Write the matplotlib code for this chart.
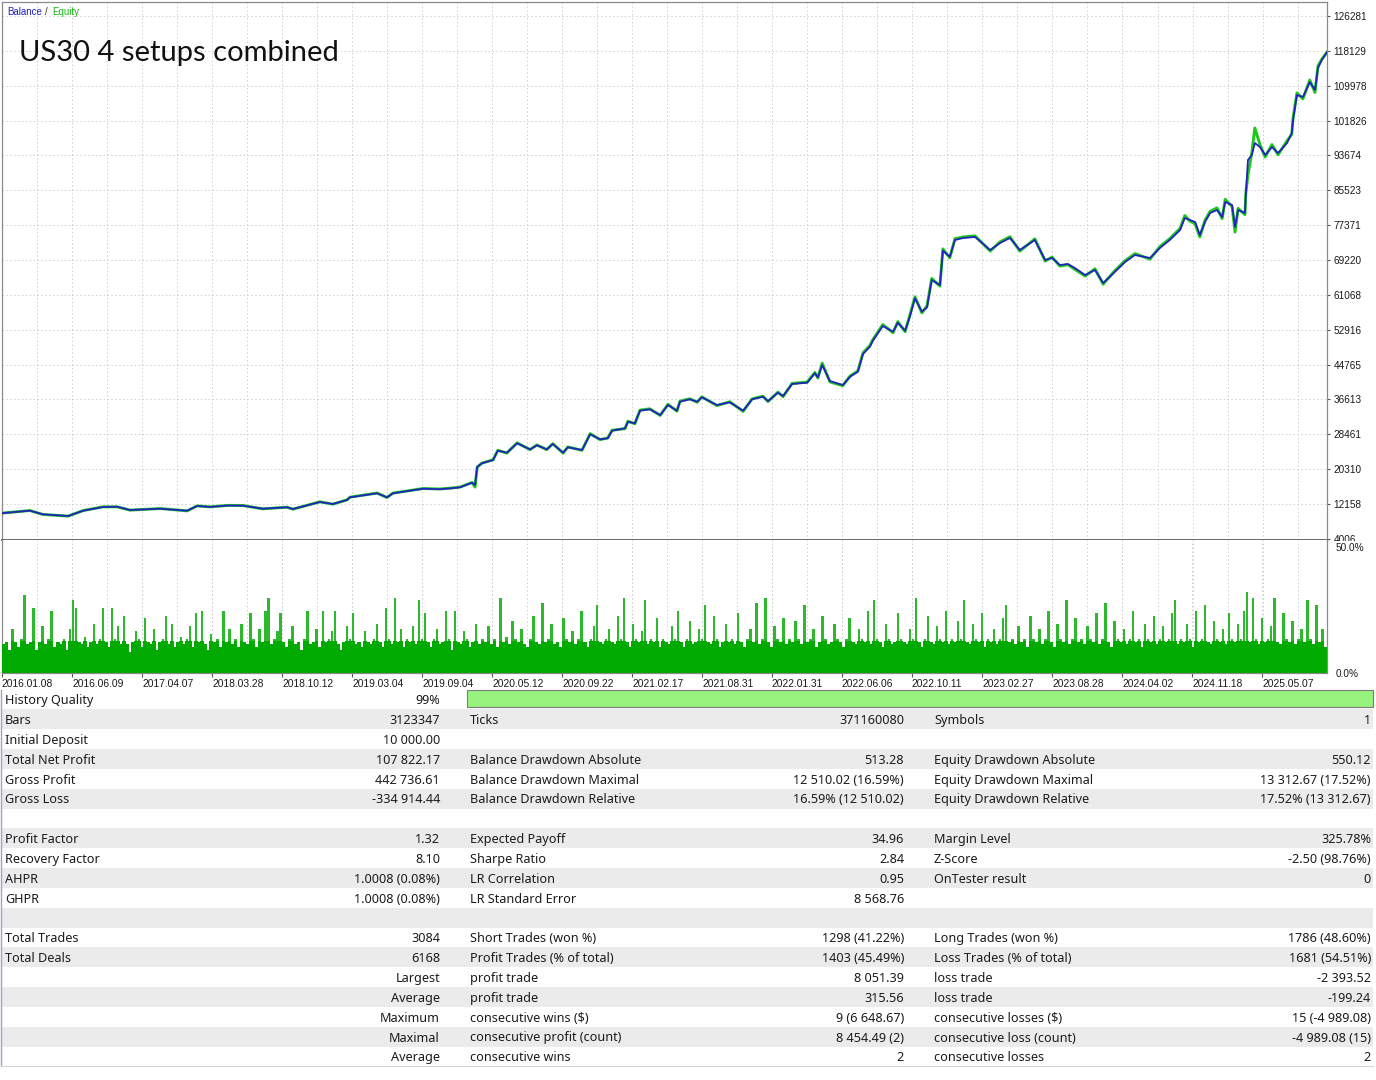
import matplotlib
matplotlib.use("Agg")
import matplotlib.pyplot as plt
from matplotlib.patches import Rectangle
import numpy as np

plt.rcParams['font.family'] = ['Liberation Sans', 'DejaVu Sans']

# ---- balance / equity curve (x = trade number) ----
trade_no = [0, 65, 95, 154, 189, 235, 268, 298, 368, 431,
            454, 484, 526, 561, 607, 663, 677, 740, 770, 803, 810, 873,
            896, 910, 980, 1019, 1047, 1066, 1094, 1101, 1106, 1117, 1143, 1154,
            1175, 1199, 1229, 1245, 1268, 1282, 1306, 1317, 1350, 1369,
            1392, 1410, 1420, 1450, 1457, 1473, 1485, 1508, 1532, 1550,
            1571, 1578, 1601, 1618, 1629, 1664, 1694, 1725, 1746, 1771,
            1783, 1806, 1818, 1839, 1874, 1892, 1899, 1909, 1927, 1957,
            1974, 1992, 2004, 2020, 2027, 2050, 2074, 2085, 2102, 2113,
            2125, 2141, 2153, 2164, 2183, 2190, 2206, 2218, 2237, 2265, 2300,
            2323, 2346, 2369, 2404, 2428, 2444, 2462, 2481, 2497, 2521, 2544, 2563,
            2590, 2614, 2637, 2672, 2695, 2718, 2742, 2753, 2765, 2777,
            2788, 2800, 2812, 2828, 2840, 2847, 2863, 2870, 2877, 2893,
            2895, 2900, 2909, 2916, 2928, 2940, 2956, 2970, 2991, 3002,
            3005, 3014, 3028, 3044, 3056, 3063, 3072, 3084]

balance = [10000, 10570, 9730, 9330, 10570, 11436, 11506, 10734, 11038, 10571,
           11670, 11440, 11786, 11740, 11038, 11366, 10968, 12606, 12138, 13073, 13705, 14641,
           13705, 14641, 15716, 15600, 15833, 16044, 17120, 16582, 20862, 21658, 22429, 24605,
           24137, 26336, 24932, 25868, 24932, 26172, 24137, 25400, 24768, 28441,
           27271, 27505, 29283, 29844, 31388, 31014, 33961, 34288, 32955, 35294,
           33961, 36066, 36627, 36066, 37095, 35294, 35925, 33961, 36627, 37235,
           36229, 38171, 37399, 40206, 40510, 42709, 41773, 44650, 40907, 39972,
           41913, 43083, 47223, 48930, 50334, 53772, 52439, 54544, 52673, 55947,
           60251, 57117, 58146, 64531, 63362, 71385, 69981, 73887, 74355, 74589, 71548,
           73186, 74355, 71548, 73887, 69209, 69677, 68040, 68274, 67338, 65701, 66870, 63830,
           66403, 68742, 70379, 69677, 72016, 73887, 76226, 79033, 78565, 78098,
           75057, 78098, 80203, 80904, 79267, 82776, 82074, 76928, 80904, 80203,
           84413, 92599, 93769, 96576, 95640, 93769, 95640, 94237, 96576, 98915,
           101955, 107803, 107335, 110844, 108972, 114118, 115989, 117822]

equity = [10000, 10620, 9690, 9300, 10610, 11480, 11470, 10700, 11080, 10530,
          11700, 11480, 11820, 11790, 11000, 11400, 10930, 12650, 12100, 13110, 13740, 14700,
          13650, 14690, 15760, 15650, 15880, 16090, 17170, 16100, 20700, 21700, 22480, 24700,
          24050, 26450, 24850, 25950, 24850, 26250, 24050, 25480, 24700, 28600,
          27180, 27600, 29400, 29750, 31500, 30900, 34100, 34400, 32850, 35450,
          33850, 36200, 36750, 35950, 37200, 35150, 36050, 33800, 36750, 37350,
          36100, 38300, 37250, 40350, 40650, 42900, 41600, 45100, 40700, 39800,
          42100, 43250, 47500, 49200, 50600, 54100, 52200, 54800, 52450, 56300,
          60600, 56850, 58450, 64900, 63100, 71800, 69700, 74200, 74600, 74850, 71300,
          73450, 74650, 71300, 74150, 68950, 69900, 67800, 68100, 67050, 65450, 67150, 63550,
          66700, 69050, 70700, 69400, 72350, 74200, 76600, 79600, 78300, 77700,
          74600, 78500, 80600, 81400, 78900, 83400, 81700, 75750, 81300, 79800,
          84800, 89100, 94300, 100080, 96200, 93300, 96200, 93800, 97100, 98600,
          102400, 108300, 106900, 111300, 108400, 114600, 116200, 117822]

balance_ticks = [4006, 12158, 20310, 28461, 36613, 44765, 52916, 61068,
                 69220, 77371, 85523, 93674, 101826, 109978, 118129, 126281]

# ---- deposit load (%) ----
deposit_load = [
    11, 12, 9, 17, 12, 10, 13, 30, 11, 12, 25, 9, 12, 18, 11, 13, 24, 10, 12, 11,
    13, 9, 17, 28, 25, 12, 11, 14, 10, 12, 19, 11, 13, 25, 12, 10, 25, 13, 18, 11,
    22, 11, 8, 12, 16, 13, 10, 21, 12, 11, 17, 9, 12, 13, 22, 11, 19, 10, 12, 14,
    11, 13, 18, 10, 23, 12, 24, 11, 9, 15, 12, 13, 10, 24, 12, 17, 11, 13, 10, 19,
    12, 11, 23, 13, 10, 17, 12, 24, 29, 11, 13, 16, 23, 12, 10, 13, 18, 11, 12, 9,
    13, 24, 11, 12, 17, 10, 24, 12, 13, 16, 24, 11, 9, 12, 18, 13, 23, 11, 12, 10,
    16, 12, 11, 13, 19, 12, 10, 25, 13, 11, 29, 12, 17, 10, 13, 12, 18, 11, 28, 13,
    23, 12, 10, 13, 17, 11, 12, 24, 13, 9, 24, 12, 11, 16, 13, 10, 12, 19, 11, 13,
    12, 18, 11, 13, 10, 29, 12, 14, 11, 20, 13, 12, 17, 11, 10, 13, 22, 12, 11, 27,
    12, 13, 19, 11, 12, 10, 21, 13, 12, 16, 11, 13, 24, 12, 10, 13, 18, 26, 12, 11,
    13, 17, 12, 11, 22, 13, 29, 12, 10, 19, 13, 12, 16, 28, 11, 13, 12, 21, 10, 13,
    12, 11, 18, 13, 24, 12, 10, 13, 20, 11, 12, 17, 13, 26, 12, 11, 22, 13, 10, 12,
    19, 12, 13, 11, 23, 12, 10, 13, 17, 12, 27, 11, 13, 29, 12, 10, 18, 13, 12, 21,
    11, 13, 12, 20, 13, 11, 26, 12, 13, 17, 10, 12, 22, 13, 11, 12, 19, 13, 12, 10,
    13, 21, 12, 11, 17, 13, 12, 24, 11, 28, 13, 12, 10, 19, 13, 11, 12, 23, 13, 12,
    11, 17, 13, 29, 12, 10, 13, 22, 12, 11, 18, 13, 12, 24, 11, 13, 12, 20, 13, 28,
    12, 11, 19, 13, 12, 23, 10, 13, 12, 17, 11, 13, 21, 26, 12, 13, 11, 18, 12, 13,
    10, 22, 13, 12, 17, 11, 13, 24, 12, 10, 19, 13, 12, 28, 11, 13, 21, 12, 13, 11,
    18, 13, 12, 23, 11, 13, 27, 12, 10, 20, 13, 12, 17, 11, 13, 24, 12, 13, 10, 19,
    13, 12, 22, 11, 13, 18, 12, 13, 23, 28, 11, 13, 12, 19, 13, 10, 24, 12, 13, 26,
    12, 11, 20, 13, 12, 17, 11, 23, 13, 12, 19, 13, 24, 31, 12, 29, 13, 11, 21, 12,
    13, 18, 29, 12, 11, 23, 13, 12, 20, 11, 13, 17, 12, 28, 13, 11, 26, 12, 17, 10]

date_ticks = [0, 163, 326, 489, 652, 815, 978, 1141, 1304, 1467,
              1630, 1792, 1955, 2118, 2281, 2444, 2607, 2770, 2933]
date_labels = ['2016.01.08', '2016.06.09', '2017.04.07', '2018.03.28', '2018.10.12',
               '2019.03.04', '2019.09.04', '2020.05.12', '2020.09.22', '2021.02.17',
               '2021.08.31', '2022.01.31', '2022.06.06', '2022.10.11', '2023.02.27',
               '2023.08.28', '2024.04.02', '2024.11.18', '2025.05.07']

# ---- report table ----
col1_labels = ['History Quality', 'Bars', 'Initial Deposit', 'Total Net Profit', 'Gross Profit',
               'Gross Loss', '', 'Profit Factor', 'Recovery Factor', 'AHPR', 'GHPR', '',
               'Total Trades', 'Total Deals', '', '', '', '', '']
col1_values = ['99%', '3123347', '10 000.00', '107 822.17', '442 736.61', '-334 914.44', '',
               '1.32', '8.10', '1.0008 (0.08%)', '1.0008 (0.08%)', '', '3084', '6168',
               'Largest', 'Average', 'Maximum', 'Maximal', 'Average']
col2_labels = ['', 'Ticks', '', 'Balance Drawdown Absolute', 'Balance Drawdown Maximal',
               'Balance Drawdown Relative', '', 'Expected Payoff', 'Sharpe Ratio',
               'LR Correlation', 'LR Standard Error', '', 'Short Trades (won %)',
               'Profit Trades (% of total)', 'profit trade', 'profit trade',
               'consecutive wins ($)', 'consecutive profit (count)', 'consecutive wins']
col2_values = ['', '371160080', '', '513.28', '12 510.02 (16.59%)', '16.59% (12 510.02)', '',
               '34.96', '2.84', '0.95', '8 568.76', '', '1298 (41.22%)', '1403 (45.49%)',
               '8 051.39', '315.56', '9 (6 648.67)', '8 454.49 (2)', '2']
col3_labels = ['', 'Symbols', '', 'Equity Drawdown Absolute', 'Equity Drawdown Maximal',
               'Equity Drawdown Relative', '', 'Margin Level', 'Z-Score', 'OnTester result',
               '', '', 'Long Trades (won %)', 'Loss Trades (% of total)', 'loss trade',
               'loss trade', 'consecutive losses ($)', 'consecutive loss (count)',
               'consecutive losses']
col3_values = ['', '1', '', '550.12', '13 312.67 (17.52%)', '17.52% (13 312.67)', '',
               '325.78%', '-2.50 (98.76%)', '0', '', '', '1786 (48.60%)', '1681 (54.51%)',
               '-2 393.52', '-199.24', '15 (-4 989.08)', '-4 989.08 (15)', '2']

W, H = 1376, 1080
fig = plt.figure(figsize=(W / 100, H / 100), dpi=100)
fig.patch.set_facecolor('white')

frame = '#8a8a8a'
grid_kw = dict(color='#cfcfcf', linestyle=(0, (1.5, 2.5)), linewidth=0.7)

# main balance chart
ax = fig.add_axes([2 / W, 1 - 540 / H, 1325 / W, 538 / H])
ax.plot(trade_no, equity, color='#1cc81c', lw=2.1, zorder=2)
ax.plot(trade_no, balance, color='#2222c0', lw=1.3, zorder=3)
ax.set_xlim(0, 3084)
ax.set_ylim(3718, 129556)
ax.yaxis.tick_right()
ax.set_yticks(balance_ticks)
ax.set_yticklabels([str(v) for v in balance_ticks])
ax.tick_params(axis='y', length=2.5, width=0.8, color='#555555', pad=2,
               labelsize=7.2, labelcolor='#1a1a1a')
ax.set_xticks(np.arange(81.5, 3084, 81.5))
ax.tick_params(axis='x', length=0, labelbottom=False)
ax.grid(True, **grid_kw)
ax.set_axisbelow(True)
for s in ax.spines.values():
    s.set_color(frame)
    s.set_linewidth(0.9)
ax.spines['bottom'].set_color('#6a6a6a')
ax.spines['bottom'].set_linewidth(1.4)

# deposit load panel: lighter spikes with a solid dark body
ax_dl = fig.add_axes([2 / W, 1 - 673 / H, 1325 / W, 133 / H])
ax_dl.set_zorder(6)
n_dl = len(deposit_load)
slot = 3084 / n_dl
xpos = (np.arange(n_dl) + 0.5) * slot
ax_dl.bar(xpos, deposit_load, width=slot * 0.8, color='#2eb82e', linewidth=0, zorder=2)
ax_dl.bar(xpos, np.minimum(deposit_load, 12.5), width=slot * 1.2, color='#00aa00',
          linewidth=0, zorder=3)
ax_dl.set_xlim(0, 3084)
ax_dl.set_ylim(0, 51.2)
ax_dl.yaxis.tick_right()
ax_dl.set_yticks([0, 50])
ax_dl.set_yticklabels(['0.0%', '50.0%'])
ax_dl.get_yticklabels()[1].set_verticalalignment('top')
ax_dl.tick_params(axis='y', length=0, pad=6, labelsize=7.2, labelcolor='#1a1a1a')
ax_dl.set_xticks(date_ticks)
ax_dl.set_xticklabels(date_labels, ha='left')
ax_dl.set_xticks(np.arange(81.5, 3084, 81.5), minor=True)
ax_dl.xaxis.remove_overlapping_locs = False
ax_dl.tick_params(axis='x', which='major', length=3, width=0.8, color='#555555',
                  pad=1, labelsize=7.4, labelcolor='#1a1a1a')
ax_dl.tick_params(axis='x', which='minor', length=0)
ax_dl.grid(True, axis='x', which='both', **grid_kw)
ax_dl.set_axisbelow(True)
for s in ax_dl.spines.values():
    s.set_color(frame)
    s.set_linewidth(0.9)
ax_dl.spines['top'].set_visible(False)

# overlay in pixel coordinates for texts and table
ax_t = fig.add_axes([0, 0, 1, 1])
ax_t.set_zorder(5)
ax_t.set_xlim(0, W)
ax_t.set_ylim(H, 0)
ax_t.axis('off')
ax_t.patch.set_visible(False)

# hide lower half of the clipped bottom axis label
ax_t.add_patch(Rectangle((1328, 540.5), 48, 6, facecolor='white', edgecolor='none'))

ax_t.text(7, 15, 'Balance', fontsize=7, color='#1f1fc0', va='baseline')
ax_t.text(45, 15, '/', fontsize=7, color='#333333', va='baseline')
ax_t.text(52, 15, 'Equity', fontsize=7, color='#14b414', va='baseline')
ax_t.text(19, 61, 'US30 4 setups combined', fontsize=21, color='#111111',
          va='baseline', family=['Lato', 'DejaVu Sans'])
ax_t.text(7, 553, 'Deposit Load', fontsize=7, color='#111111', va='baseline', zorder=10)

row_h = 19.84
top = 689.5
tfont = dict(fontsize=9.1, color='#1b1b1b', va='center', family=['Noto Sans', 'DejaVu Sans'])
for i in range(len(col1_labels)):
    y0 = top + i * row_h
    if i % 2 == 1:
        ax_t.add_patch(Rectangle((1, y0), 1372, row_h, facecolor='#ebebeb', edgecolor='none'))
    yc = y0 + row_h / 2 + 1.3
    ax_t.text(5, yc, col1_labels[i], ha='left', **tfont)
    ax_t.text(440, yc, col1_values[i], ha='right', **tfont)
    ax_t.text(470, yc, col2_labels[i], ha='left', **tfont)
    ax_t.text(904, yc, col2_values[i], ha='right', **tfont)
    ax_t.text(934, yc, col3_labels[i], ha='left', **tfont)
    ax_t.text(1371, yc, col3_values[i], ha='right', **tfont)

# history quality bar
ax_t.add_patch(Rectangle((467, top), 906, 17.5, facecolor='#97f27e',
                         edgecolor='#7c7c7c', linewidth=0.8))
ax_t.plot([1, 1], [top, top + 19 * row_h], color='#9aa8bf', lw=1)
ax_t.plot([1, 1373], [top + 19 * row_h, top + 19 * row_h], color='#d6d6d6', lw=0.8)

fig.savefig('out.png', dpi=100, facecolor='white')
